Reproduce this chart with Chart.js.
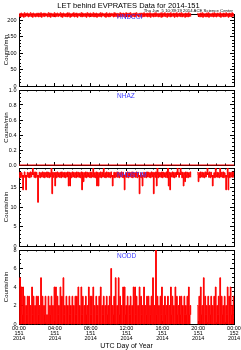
<!DOCTYPE html>
<html><head><meta charset="utf-8">
<script src="https://cdn.jsdelivr.net/npm/chart.js@4.4.0/dist/chart.umd.min.js"></script>
<style>
html,body{margin:0;padding:0;background:#fff;width:241px;height:350px;overflow:hidden;position:relative;}
canvas{position:absolute;left:0;}
.t{position:absolute;white-space:pre;font-family:"Liberation Sans",Arial,sans-serif;color:#000;z-index:5;}
.lab{color:#3c3cff;font-size:6.5px;line-height:7px;left:117px;}
</style></head><body>
<div class="t" style="left:0;width:257px;text-align:center;top:2px;font-size:7.5px;line-height:8px;">LET behind EVPRATES Data for 2014-151</div>
<div class="t" style="right:8px;top:8px;font-size:4.3px;line-height:5px;">Thu Jun  5 10:39:19 2014 ACE Science Center</div>
<div class="t lab" style="top:13px;">HNDCOI</div>
<div class="t lab" style="top:92px;">NHAZ</div>
<div class="t lab" style="top:170.5px;">NHDSTIM</div>
<div class="t lab" style="top:251.5px;">NODD</div>
<script>
// sample interval in minutes for the 5-minute series
const SAMPLE_MIN = 5;
const hndcor = [
212,222,211,223,213,221,210,224,212,222,214,223,211,221,213,224,212,222,210,223,213,221,211,222,
213,223,211,222,212,224,210,221,213,223,212,222,214,221,211,224,212,223,210,222,213,221,212,224,
211,222,213,223,212,221,214,224,211,222,210,223,213,221,212,222,211,224,213,223,210,221,212,222,
213,224,211,222,212,223,210,221,214,222,212,224,211,223,213,221,212,222,210,224,213,222,211,223,
212,221,213,224,211,222,212,223,210,221,213,222,212,224,211,223,214,221,212,222,210,224,213,221,
211,223,212,222,214,221,211,224,212,223,213,222,210,221,212,224,211,222,213,223,212,221,210,224,
213,222,211,223,212,224,210,221,213,222,211,223,212,224,214,221,211,222,213,223,210,222,212,224,
212,221,213,223,211,222,212,224,210,221,213,222,211,223,212,224,213,221,211,222,212,223,210,224,
211,222,213,224,212,221,210,223,213,222,211,224,212,221,213,223,210,222,212,224,211,221,213,223,
212,224,211,222,213,221,210,223,212,222,211,224,213,221,212,null,null,null,null,null,null,null,null,222,
213,221,211,223,212,224,210,222,213,221,211,223,212,224,210,222,213,221,212,223,211,224,212,222,
211,223,213,222,212,224,210,221,213,223,211,222,212,224,213,221,210,223,212,222,211,224,213,221,
212];
// hourly samples
const nhaz = [0,0,0,0,0,0,0,0,0,0,0,0,0,0,0,0,0,0,0,0,0,0,0,0,0];
const nhdstim = [
17.6,18.9,17.5,18.8,17.7,14.4,17.6,19.0,17.5,14.4,17.7,18.9,17.6,18.8,17.5,19.0,17.7,18.9,20.5,18.8,17.6,19.0,17.5,18.9,
17.7,11.2,17.6,18.9,17.5,18.8,17.7,19.0,17.6,18.9,17.5,18.8,17.7,19.0,17.6,18.9,17.5,18.8,17.7,20.5,13.4,18.9,17.6,18.8,
15.4,18.9,17.5,19.0,17.7,18.8,17.6,18.9,17.5,19.0,17.7,18.8,17.6,18.9,17.5,18.8,17.7,19.0,15.4,18.9,15.4,18.8,17.5,19.0,
17.7,18.9,17.6,18.8,17.5,19.0,17.7,18.9,17.6,18.8,17.5,19.0,14.4,18.9,16.5,18.8,17.6,19.0,17.5,18.9,17.7,18.8,17.6,19.0,
17.5,18.9,17.7,20.5,17.6,18.8,17.5,19.0,15.4,18.9,15.4,18.8,17.6,19.0,17.5,18.9,17.7,20.5,17.6,18.8,17.5,19.0,17.7,18.9,
17.6,18.8,17.5,19.0,17.7,15.4,17.6,18.9,17.5,18.8,17.7,19.0,17.6,18.9,17.5,18.8,17.7,19.0,17.6,18.9,17.5,14.4,17.7,18.8,
17.6,19.0,17.5,18.9,17.7,18.8,17.6,19.0,17.5,18.9,17.7,18.8,17.6,19.0,17.5,18.9,17.7,13.4,17.6,18.8,17.5,15.4,17.7,18.9,
17.6,18.8,17.5,19.0,17.7,18.9,17.6,18.8,17.5,19.0,17.7,18.9,13.4,18.8,17.6,19.0,15.4,20.5,17.5,18.9,17.7,18.8,17.6,19.0,
17.5,18.9,17.7,18.8,17.6,19.0,17.5,20.5,15.4,18.9,14.4,18.8,17.7,19.0,17.6,18.9,17.5,18.8,17.7,19.0,20.5,18.9,17.6,18.8,
20.5,19.0,17.5,18.9,15.4,18.8,16.5,19.0,17.6,18.9,17.5,18.8,17.7,19.0,17.6,null,null,null,null,null,null,null,null,18.9,
16.5,18.8,17.5,19.0,17.7,18.9,17.6,18.8,17.5,19.0,17.7,18.9,20.5,18.8,17.6,19.0,17.5,18.9,17.7,15.4,17.6,18.8,17.5,20.5,
17.7,18.9,17.6,18.8,17.5,20.5,17.7,18.9,17.6,19.0,17.5,18.8,17.7,14.4,17.6,20.5,14.4,18.9,17.5,18.8,17.7,19.0,17.6,18.9,
17.6];
const nodd = [
0,5,0,4,1,4,0,3,0,2,1,3,0,3,0,2,0,4,1,3,0,2,0,3,
0,3,1,2,0,5,0,3,0,2,1,3,0,1,0,3,0,2,1,3,0,2,0,4,
0,4,0,3,1,2,0,4,0,3,0,5,1,2,0,3,0,2,0,3,1,2,0,3,
0,2,0,3,1,3,0,4,0,2,0,4,1,3,0,2,0,3,1,2,0,4,0,3,
1,3,0,4,0,2,0,3,1,2,0,3,0,4,0,2,1,3,0,2,0,3,1,2,
0,3,0,6,0,2,1,3,0,5,0,2,0,5,1,3,0,2,0,4,0,4,1,2,
0,3,0,2,1,3,0,2,0,4,0,4,1,3,0,2,0,4,0,3,1,2,0,4,
0,2,1,3,0,3,0,2,1,3,0,5,0,2,0,9,1,3,0,2,0,3,1,4,
0,2,0,3,1,2,0,3,0,2,0,4,1,3,0,2,0,4,0,3,1,2,0,3,
1,3,0,2,0,3,1,2,1,3,0,4,1,2,1,null,null,null,null,null,null,null,null,2,
0,3,0,4,1,2,0,5,0,3,1,2,0,3,0,2,1,3,0,2,0,3,0,4,
0,2,1,3,0,5,0,3,1,2,0,3,0,2,1,4,0,3,0,4,1,2,0,3,
0];
const xTickValues = [0,240,480,720,960,1200,1440];
const xTickLabels = [
  ['00:00','151','2014'],['04:00','151','2014'],['08:00','151','2014'],
  ['12:00','151','2014'],['16:00','151','2014'],['20:00','151','2014'],
  ['00:00','152','2014']];
const yTicks1 = [0,50,100,150,200];
const yTicks2 = [0,0.2,0.4,0.6,0.8,1.0];
const yTicks3 = [0,5,10,15];
const yTicks4 = [0,2,4,6,8];

Chart.defaults.font.family = '"Liberation Sans", Arial, sans-serif';
Chart.defaults.color = '#000';

const panels = [
  {data:hndcor, dt:SAMPLE_MIN, top:14, bottom:86, min:0, max:220, ticks:yTicks1, minor:10, fmt:v=>String(v), clipTop:4, fill:{value:217}},
  {data:nhaz, dt:60, top:90, bottom:165, min:0, max:1, ticks:yTicks2, minor:0.05, fmt:v=>v.toFixed(1), clipTop:0, fill:false},
  {data:nhdstim, dt:SAMPLE_MIN, top:168, bottom:246, min:0, max:20, ticks:yTicks3, minor:1, fmt:v=>String(v), clipTop:0, fill:{value:18.2}},
  {data:nodd, dt:SAMPLE_MIN, top:250, bottom:324, min:0, max:8, ticks:yTicks4, minor:0.5, fmt:v=>String(v), clipTop:0, fill:'origin'}
];

function range(a, b, s){ const out=[]; const n=Math.round((b-a)/s); for(let k=0;k<=n;k++) out.push({value:+(a+k*s).toFixed(6)}); return out; }
const fixW = w => s => { s.width = w; s.paddingTop=0; s.paddingBottom=0; s.paddingLeft=0; s.paddingRight=0; };
const fixH = h => s => { s.height = h; s.paddingTop=0; s.paddingBottom=0; s.paddingLeft=0; s.paddingRight=0; };

panels.forEach((p, idx) => {
  const last = idx === panels.length - 1;
  const padT = 6;
  const padB = last ? 0 : 6;
  const axisH = last ? 350 - p.bottom : 0;
  const cTop = p.top - padT;
  const cH = padT + (p.bottom - p.top) + padB + axisH;
  const cv = document.createElement('canvas');
  cv.width = 241; cv.height = cH;
  cv.style.top = cTop + 'px'; cv.style.width = '241px'; cv.style.height = cH + 'px';
  document.body.appendChild(cv);

  const majorX = (pos, showLabels, h) => ({
    type:'linear', position:pos, min:0, max:1440, weight:0,
    afterBuildTicks: s => { s.ticks = xTickValues.map(v=>({value:v})); },
    ticks:{display:showLabels, autoSkip:false, maxRotation:0, minRotation:0, padding:5.6,
      font:{size:5.5, lineHeight:'4.7px'}, color:'#000', callback:(v,i)=>xTickLabels[i]},
    grid:{drawOnChartArea:false, tickLength:-3, tickColor:'#000', tickWidth:1},
    border:{display:true, color:'#000', width:1},
    title:{display:showLabels, text:'UTC Day of Year', font:{size:7, lineHeight:1}, padding:{top:0,bottom:0}, color:'#000'},
    afterFit: fixH(h)
  });
  const minorX = pos => ({
    type:'linear', position:pos, min:0, max:1440, weight:-1,
    afterBuildTicks: s => { s.ticks = range(0,1440,60); },
    ticks:{display:false},
    grid:{drawOnChartArea:false, tickLength:-1.5, tickColor:'#000', tickWidth:1},
    border:{display:false},
    afterFit: fixH(0)
  });
  const majorY = (pos, showLabels, w) => ({
    type:'linear', position:pos, min:p.min, max:p.max, weight:0,
    afterBuildTicks: s => { s.ticks = p.ticks.map(v=>({value:v})); },
    ticks:{display:showLabels, autoSkip:false, padding:6.5, font:{size:5.5, family:'"Liberation Sans Narrow", "Liberation Sans", sans-serif'}, color:'#000', callback:v=>p.fmt(v)},
    grid:{drawOnChartArea:false, tickLength:-4, tickColor:'#000', tickWidth:1},
    border:{display:true, color:'#000', width:1},
    title:{display:showLabels, text:'Counts/min', font:{size:6, lineHeight:1.2}, padding:{top:2.6,bottom:0}, color:'#000'},
    afterFit: fixW(w)
  });
  const minorY = pos => ({
    type:'linear', position:pos, min:p.min, max:p.max, weight:-1,
    afterBuildTicks: s => { s.ticks = range(p.min, p.max, p.minor); },
    ticks:{display:false},
    grid:{drawOnChartArea:false, tickLength:-2, tickColor:'#000', tickWidth:1},
    border:{display:false},
    afterFit: fixW(0)
  });

  new Chart(cv, {
    type:'line',
    data:{datasets:[{
      data: p.data.map((v,i)=>({x:i*p.dt, y:v})),
      xAxisID:'x', yAxisID:'y',
      borderColor:'#ff0000', backgroundColor:'#ff0000', fill:p.fill,
      borderWidth:1, pointRadius:0, pointHoverRadius:0,
      stepped:true, spanGaps:false, tension:0,
      clip:{left:0, top:p.clipTop, right:0, bottom:1}
    }]},
    options:{
      responsive:false, animation:false, devicePixelRatio:1,
      layout:{padding:{left:0, right:7, top:padT, bottom:padB}},
      plugins:{legend:{display:false}, tooltip:{enabled:false}, title:{display:false}, filler:{propagate:false}},
      events:[],
      scales:{
        x: majorX('bottom', last, axisH),
        xm: minorX('bottom'),
        x2: majorX('top', false, 0),
        x2m: minorX('top'),
        y: majorY('left', true, 19),
        ym: minorY('left'),
        y2: majorY('right', false, 0),
        y2m: minorY('right')
      }
    }
  });
});
</script>
</body></html>
